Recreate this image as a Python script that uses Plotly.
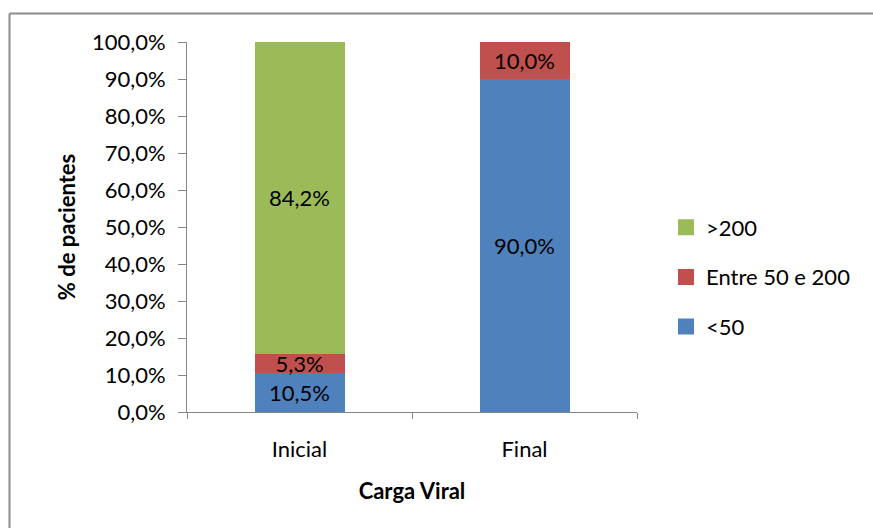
import plotly.graph_objects as go

# Viral load distribution at start and end of follow-up
categories = ["Inicial", "Final"]
series_names = ["<50", "Entre 50 e 200", ">200"]
lt50 = [10.5, 90.0]
mid50_200 = [5.3, 10.0]
gt200 = [84.2, 0.0]
y_ticks = [0, 10, 20, 30, 40, 50, 60, 70, 80, 90, 100]

colors = {"<50": "#4F81BD", "Entre 50 e 200": "#C0504D", ">200": "#9BBB59"}
FONT = "Lato"
FS = 22

W, H = 873, 528
L, R, T, B = 187, 637, 42, 412  # plot area in pixels


def fmt(v):
    return f"{v:.1f}%".replace(".", ",")


fig = go.Figure()
for name, vals in zip(series_names, [lt50, mid50_200, gt200]):
    fig.add_trace(go.Bar(
        x=categories,
        y=vals,
        name=name,
        showlegend=False,
        marker=dict(color=colors[name], line=dict(width=0)),
        text=[fmt(v) if v > 0 else "" for v in vals],
        textposition="inside",
        insidetextanchor="middle",
        constraintext="none",
        textangle=0,
        textfont=dict(family=FONT, size=FS, color="black"),
        width=0.4,
        cliponaxis=False,
    ))

# legend entries with square swatches, top entry is the top stack segment
n = len(series_names)
for i, name in enumerate(series_names):
    fig.add_trace(go.Scatter(
        x=[None], y=[None], mode="markers", name=name,
        marker=dict(symbol="square", size=18, color=colors[name]),
        legendgroup=f"g{i}",
        legendrank=n - i,
    ))

# outer chart border: left and top edges (right/bottom run off-canvas)
pw, ph = R - L, B - T
bx = (9.5 - L) / pw
by = (B - 13.5) / ph
border = dict(color="#8C8C8C", width=2)
fig.add_shape(type="line", xref="paper", yref="paper",
              x0=bx, x1=bx, y0=by, y1=(B - H) / ph, line=border, layer="below")
fig.add_shape(type="line", xref="paper", yref="paper",
              x0=bx, x1=(W - L) / pw, y0=by, y1=by, line=border, layer="below")

fig.update_layout(
    width=W, height=H,
    margin=dict(l=L, r=W - R, t=T, b=H - B, autoexpand=False),
    paper_bgcolor="white", plot_bgcolor="white",
    barmode="stack",
    separators=",.",
    font=dict(family=FONT, size=FS, color="black"),
    showlegend=True,
    legend=dict(
        traceorder="grouped",
        x=(666 - L) / pw, xanchor="left",
        y=(B - 277) / ph, yanchor="middle",
        font=dict(family=FONT, size=FS, color="black"),
        tracegroupgap=18,
        itemwidth=30,
        bgcolor="rgba(0,0,0,0)",
    ),
    xaxis=dict(
        showline=True, linecolor="#868686", linewidth=1,
        ticks="outside", tickson="boundaries", ticklen=6, tickcolor="#868686",
        tickfont=dict(family=FONT, size=FS, color="black"),
        ticklabelstandoff=18,
        title=dict(text="<b>Carga Viral</b>", font=dict(family=FONT, size=FS), standoff=22),
        showgrid=False,
    ),
    yaxis=dict(
        range=[0, 100],
        tickvals=y_ticks,
        ticktext=[fmt(v) for v in y_ticks],
        showline=True, linecolor="#868686", linewidth=1,
        ticks="outside", ticklen=8, tickcolor="#868686",
        tickfont=dict(family=FONT, size=FS, color="black"),
        ticklabelstandoff=8,
        showgrid=False, zeroline=False,
        title=dict(text="<b>% de pacientes</b>", font=dict(family=FONT, size=FS), standoff=10),
    ),
)

fig.write_html("out.html", config={"displayModeBar": False})
